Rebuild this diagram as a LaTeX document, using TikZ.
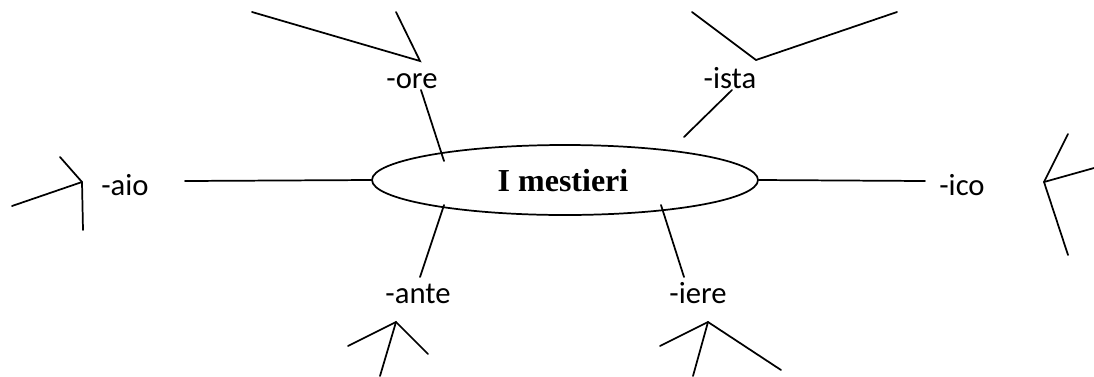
\documentclass[tikz,border=0pt]{standalone}
\usepackage{fontspec}
\setmainfont{Carlito}
\newfontfamily\titlefont{Liberation Serif}
\usetikzlibrary{shapes.geometric}
\begin{document}
\begin{tikzpicture}[x=0.75pt,y=-0.75pt,
  ln/.style={line width=1.3pt,line cap=round},
  lab/.style={anchor=base,inner sep=0pt,font=\fontsize{23}{27}\selectfont},
  hub/.style={draw,line width=1.3pt,ellipse,inner sep=0pt,minimum width=289.5pt,minimum height=52.5pt}]
\useasboundingbox (0,0) rectangle (1094,376);
% centre
\node[hub] (c) at (565,180) {};
\node[anchor=base,inner sep=0pt,font=\titlefont\bfseries\fontsize{24}{28}\selectfont] (title) at (563,191) {I mestieri};
% labels
\node[lab] (aio) at (125,195) {-aio};
\node[lab] (ore) at (412,88) {-ore};
\node[lab] (ista) at (730,88) {-ista};
\node[lab] (ico) at (962,195) {-ico};
\node[lab] (ante) at (418,303) {-ante};
\node[lab] (iere) at (698,303) {-iere};
% coordinates
\coordinate (aioL) at (185,181);
\coordinate (icoR) at (925,181);
\coordinate (oreA) at (421,90);  \coordinate (oreB) at (444,161);
\coordinate (istaA) at (732,90); \coordinate (istaB) at (684,137);
\coordinate (anteA) at (420,277); \coordinate (anteB) at (444,205);
\coordinate (iereA) at (684,277); \coordinate (iereB) at (661,205);
% forks
\coordinate (f1) at (82,182);
\coordinate (f1a) at (60,157); \coordinate (f1b) at (12,206); \coordinate (f1c) at (83,230);
\coordinate (f2) at (420,61);
\coordinate (f2a) at (252,12); \coordinate (f2b) at (396,12);
\coordinate (f3) at (756,60);
\coordinate (f3a) at (692,12); \coordinate (f3b) at (897,12);
\coordinate (f4) at (1044,182);
\coordinate (f4a) at (1068,134); \coordinate (f4b) at (1094,168); \coordinate (f4c) at (1068,255);
\coordinate (f5) at (396,322);
\coordinate (f5a) at (348,346); \coordinate (f5b) at (428,354); \coordinate (f5c) at (380,376);
\coordinate (f6) at (708,322);
\coordinate (f6a) at (660,346); \coordinate (f6b) at (781,370); \coordinate (f6c) at (693,376);
% connectors
\draw[ln] (aioL) -- (c.west);
\draw[ln] (c.east) -- (icoR);
\draw[ln] (oreA) -- (oreB);
\draw[ln] (istaA) -- (istaB);
\draw[ln] (anteA) -- (anteB);
\draw[ln] (iereA) -- (iereB);
\draw[ln] (f1a) -- (f1) -- (f1c); \draw[ln] (f1b) -- (f1);
\draw[ln] (f2a) -- (f2) -- (f2b);
\draw[ln] (f3a) -- (f3) -- (f3b);
\draw[ln] (f4a) -- (f4) -- (f4c); \draw[ln] (f4b) -- (f4);
\draw[ln] (f5a) -- (f5) -- (f5b); \draw[ln] (f5c) -- (f5);
\draw[ln] (f6a) -- (f6) -- (f6b); \draw[ln] (f6c) -- (f6);
\end{tikzpicture}
\end{document}
